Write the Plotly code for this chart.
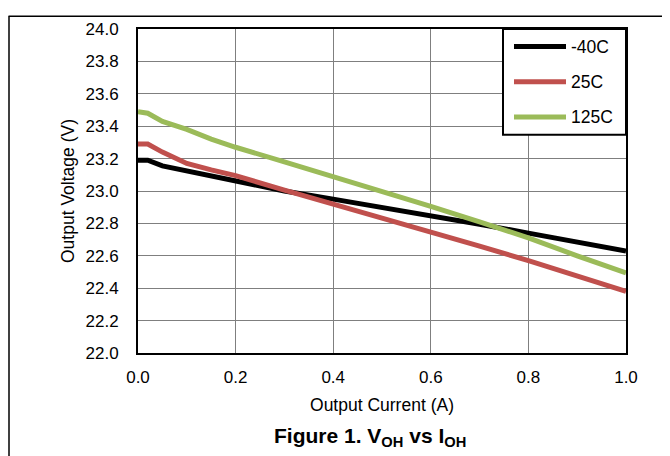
import plotly.graph_objects as go

current = [0.0, 0.02, 0.05, 0.1, 0.15, 0.2, 0.3, 0.4, 0.5, 0.6, 0.7, 0.8, 0.9, 1.0]
v_m40 = [23.19, 23.19, 23.155, 23.125, 23.09, 23.06, 23.0, 22.95, 22.90, 22.85, 22.795, 22.74, 22.685, 22.63]
v_25 = [23.29, 23.29, 23.24, 23.17, 23.13, 23.095, 23.005, 22.92, 22.835, 22.75, 22.66, 22.57, 22.475, 22.38]
v_125 = [23.49, 23.48, 23.43, 23.38, 23.32, 23.27, 23.18, 23.09, 23.0, 22.905, 22.81, 22.71, 22.60, 22.495]

names = ["-40C", "25C", "125C"]
colors = ["#000000", "#C0504D", "#9BBB59"]
series = [v_m40, v_25, v_125]

# page has an 8px body margin; figure coordinates = page coordinates - 8
OFF = 8
W, H = 670 - OFF, 456 - OFF
L, R, T, B = 138 - OFF, 626 - OFF, 22 - OFF, 353 - OFF
pw, ph = R - L, B - T


def px(x):
    return (x - OFF - L) / pw


def py(y):
    return (B - (y - OFF)) / ph


fig = go.Figure()
for n, c, s in zip(names, colors, series):
    fig.add_trace(go.Scatter(x=current, y=s, mode="lines", name=n,
                             line=dict(color=c, width=5), showlegend=False))

font = "Liberation Sans, Arial, sans-serif"
shapes = []
annotations = []

# manual legend (page coordinates)
lx0, lx1, ly0, ly1 = 503, 626, 22, 130
shapes.append(dict(type="rect", xref="paper", yref="paper", x0=px(lx0), x1=px(lx1),
                   y0=py(ly1), y1=py(ly0), line=dict(color="black", width=2),
                   fillcolor="white", layer="above"))
for i, (n, c) in enumerate(zip(names, colors)):
    yy = 40 + 36 * i
    shapes.append(dict(type="line", xref="paper", yref="paper", x0=px(514), x1=px(566),
                       y0=py(yy), y1=py(yy), line=dict(color=c, width=5), layer="above"))
    annotations.append(dict(text=n, xref="paper", yref="paper", x=px(569), y=py(yy),
                            xanchor="left", yanchor="middle", showarrow=False,
                            font=dict(family=font, size=17.5, color="black")))

# outer border (top and left), as close to the page edge as the figure allows
shapes.append(dict(type="line", xref="paper", yref="paper", x0=px(8.5), x1=px(665),
                   y0=py(9), y1=py(9), line=dict(color="black", width=1.5)))
shapes.append(dict(type="line", xref="paper", yref="paper", x0=px(9), x1=px(9),
                   y0=py(9), y1=py(470), line=dict(color="black", width=1.5)))

annotations.append(dict(text="<b>Figure 1. V<sub>OH</sub> vs I<sub>OH</sub></b>",
                        xref="paper", yref="paper", x=px(370), y=0, yanchor="top",
                        yshift=-69, showarrow=False,
                        font=dict(family=font, size=21, color="black")))

fig.update_layout(
    width=W, height=H,
    margin=dict(l=L, r=W - R, t=T, b=H - B),
    paper_bgcolor="white", plot_bgcolor="white",
    font=dict(family=font, size=17, color="black"),
    shapes=shapes, annotations=annotations,
)
fig.update_xaxes(range=[0, 1], dtick=0.2, tickformat=".1f",
                 showgrid=True, gridcolor="#7f7f7f", gridwidth=1,
                 showline=True, linecolor="black", linewidth=2, mirror=True,
                 ticks="", zeroline=False, ticklabelstandoff=8,
                 title=dict(text="Output Current (A)", standoff=12,
                            font=dict(family=font, size=17.5)),
                 tickfont=dict(family=font, size=17))
fig.update_yaxes(range=[22, 24], dtick=0.2, tickformat=".1f",
                 showgrid=True, gridcolor="#7f7f7f", gridwidth=1,
                 showline=True, linecolor="black", linewidth=2, mirror=True,
                 ticks="", zeroline=False, ticklabelstandoff=14,
                 title=dict(text="Output Voltage (V)", standoff=6,
                            font=dict(family=font, size=17.5)),
                 tickfont=dict(family=font, size=17))

fig.write_html("out.html")
